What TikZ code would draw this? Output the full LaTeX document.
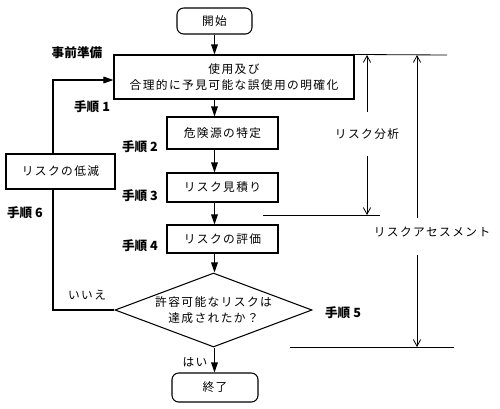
\documentclass[tikz,border=0pt]{standalone}
\usepackage{fontspec}
\usepackage{tikz}
\usetikzlibrary{shapes.geometric, arrows.meta, positioning, calc}
\newfontfamily\jpfont[LetterSpace=12]{Noto Sans CJK JP}
\newfontfamily\jpstep{Noto Sans CJK JP}

\begin{document}
\begin{tikzpicture}[
    x=0.03cm, y=-0.03cm,
    font=\jpfont\fontsize{10}{14}\selectfont,
    box/.style={draw, line width=0.9pt, align=center, inner sep=0pt, minimum width=3.33cm},
    term/.style={box, rounded corners=2mm},
    decide/.style={draw, line width=0.9pt, diamond, aspect=2.66, inner sep=0pt, minimum width=5.91cm, minimum height=2.22cm, align=center},
    steplbl/.style={font=\jpstep\bfseries\fontsize{10.8}{12}\selectfont},
    flow/.style={-{Triangle[length=3mm,width=2mm]}, line width=0.9pt},
    conn/.style={line width=0.9pt},
    brk/.style={-{Straight Barb[length=2mm,width=2.2mm]}, line width=0.7pt},
    rule/.style={line width=0.7pt}
]
    \useasboundingbox (0,0) rectangle (500,408);

    % main flow
    \node[term, minimum width=2.25cm, minimum height=0.78cm] (start) at (214.5,21) {開始};
    \node[box, minimum width=7.2cm, minimum height=1.32cm] (define) at (234,77) {使用及び\\合理的に予見可能な誤使用の明確化};
    \node[box, minimum height=0.96cm] (hazard) at (222.5,133) {危険源の特定};
    \node[box, minimum height=0.87cm] (estim) at (222.5,187.5) {リスク見積り};
    \node[box, minimum height=0.84cm] (evalu) at (222.5,239) {リスクの評価};
    \node[decide] (accept) at (213.5,310) {許容可能なリスクは\\達成されたか？};
    \node[term, minimum width=2.58cm, minimum height=0.87cm] (finish) at (215,387.5) {終了};
    \node[box, minimum width=3.27cm, minimum height=1.05cm] (reduce) at (60.5,171.5) {リスクの低減};

    % step labels
    \node[steplbl] (prep) at (77,53) {事前準備};
    \node[steplbl] (step1) at (92,107) {手順 1};
    \node[steplbl] (step2) at (140,147) {手順 2};
    \node[steplbl] (step3) at (140,196) {手順 3};
    \node[steplbl] (step4) at (140,246) {手順 4};
    \node[steplbl] (step5) at (343,313) {手順 5};
    \node[steplbl] (step6) at (25,213) {手順 6};
    \node (no) at (87,295) {いいえ};
    \node (yes) at (195,362) {はい};

    \draw[flow] (start) -- (start |- define.north);
    \draw[flow] (define.south -| start) -- (hazard.north -| start);
    \draw[flow] (hazard.south -| start) -- (estim.north -| start);
    \draw[flow] (estim.south -| start) -- (evalu.north -| start);
    \draw[flow] (evalu.south -| start) -- (accept.north -| start);
    \draw[flow] (accept.south -| start) -- (finish.north -| start);

    % loop back
    \coordinate (loop) at (53,0);
    \draw[conn] (accept.west) -| (reduce.south -| loop);
    \draw[flow] (reduce.north -| loop) |- ($(define.west)+(0,3)$);

    % brackets
    \coordinate (topend) at (447,55);
    \coordinate (midL) at (263,215);
    \coordinate (midR) at (380,215);
    \coordinate (botL) at (290,347);
    \coordinate (botR) at (454,347);
    \coordinate (asUp) at (417,218);
    \coordinate (asDn) at (417,255);
    \draw[rule] (define.north east) -- (topend);
    \draw[rule] (midL) -- (midR);
    \draw[rule] (botL) -- (botR);

    \node[minimum height=1.32cm] (analysis) at (367,134) {リスク分析};
    \draw[brk] (analysis.north) -- (analysis.north |- topend);
    \draw[brk] (analysis.south) -- (analysis.south |- midR);

    \node (assess) at (432,232) {リスクアセスメント};
    \draw[brk] (asUp) -- (asUp |- topend);
    \draw[brk] (asDn) -- (asDn |- botR);
\end{tikzpicture}
\end{document}
